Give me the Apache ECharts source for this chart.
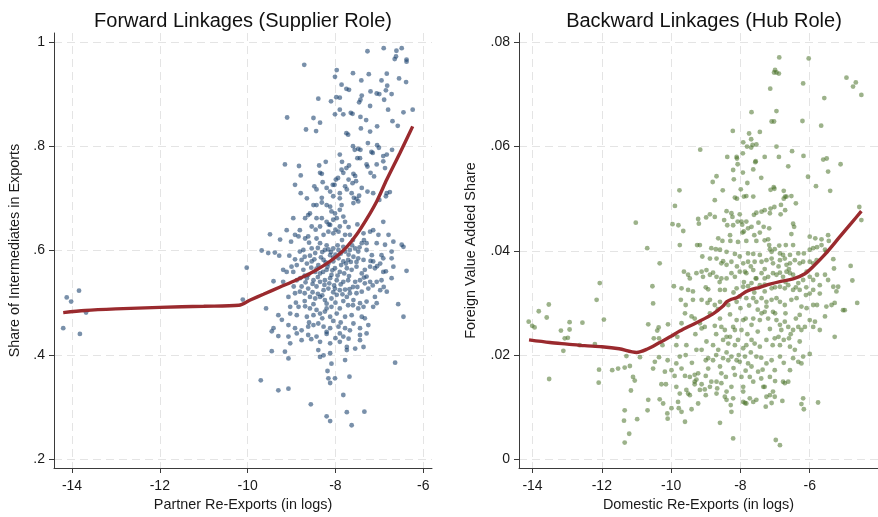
<!DOCTYPE html>
<html>
<head>
<meta charset="utf-8">
<script src="https://cdn.jsdelivr.net/npm/echarts@6/dist/echarts.min.js"></script>
<style>
html, body { margin: 0; padding: 0; background: #ffffff; }
#chart { width: 878px; height: 517px; }
</style>
</head>
<body>
<div id="chart"></div>
<script>
// Forward linkages: partner re-exports (log) vs. share of intermediates in exports
const forwardPoints = [
  [-7.27,0.982],[-6.90,0.988],[-6.49,0.988],[-6.61,0.983],[-6.62,0.972],[-6.65,0.967],[-6.38,0.966],[-6.38,0.962],
  [-8.71,0.956],[-7.97,0.946],[-8.01,0.933],[-7.24,0.938],[-6.83,0.939],[-6.95,0.926],[-7.41,0.926],[-7.86,0.918],
  [-7.75,0.910],[-7.69,0.908],[-6.82,0.916],[-6.85,0.907],[-6.39,0.923],[-7.20,0.905],[-7.06,0.901],[-7.00,0.900],
  [-6.72,0.900],[-7.40,0.897],[-7.43,0.889],[-6.89,0.889],[-7.98,0.894],[-7.90,0.893],[-8.39,0.891],[-8.10,0.886],
  [-7.46,0.884],[-7.21,0.877],[-6.24,0.870],[-6.45,0.865],[-7.65,0.864],[-7.61,0.862],[-7.82,0.861],[-8.01,0.861],
  [-7.43,0.856],[-9.10,0.855],[-8.50,0.854],[-6.70,0.848],[-6.58,0.839],[-8.35,0.845],[-7.05,0.838],[-8.67,0.832],
  [-8.44,0.829],[-7.42,0.834],[-7.21,0.828],[-7.75,0.825],[-7.71,0.822],[-7.26,0.806],[-7.48,0.795],[-7.43,0.793],
  [-7.56,0.793],[-7.05,0.802],[-7.01,0.797],[-6.71,0.793],[-6.83,0.784],[-6.91,0.781],[-7.18,0.789],[-7.15,0.787],
  [-7.90,0.784],[-7.50,0.777],[-7.44,0.777],[-6.91,0.771],[-7.29,0.765],[-7.27,0.761],[-7.06,0.765],[-9.15,0.765],
  [-8.83,0.762],[-8.22,0.770],[-8.37,0.763],[-7.69,0.763],[-7.75,0.758],[-6.87,0.758],[-8.79,0.744],[-7.20,0.749],
  [-7.12,0.742],[-7.86,0.755],[-7.82,0.749],[-7.94,0.739],[-7.99,0.736],[-7.59,0.747],[-7.55,0.743],[-8.35,0.749],
  [-8.31,0.747],[-7.70,0.736],[-7.53,0.733],[-7.61,0.729],[-8.29,0.731],[-8.06,0.726],[-8.02,0.726],[-8.92,0.726],
  [-8.48,0.723],[-8.43,0.717],[-7.78,0.723],[-7.74,0.717],[-7.63,0.710],[-7.27,0.713],[-7.14,0.710],[-6.83,0.710],
  [-6.76,0.712],[-8.79,0.710],[-8.12,0.713],[-8.05,0.704],[-7.90,0.710],[-7.58,0.701],[-7.52,0.699],[-7.46,0.705],
  [-6.85,0.704],[-7.00,0.697],[-8.31,0.701],
  [-8.50,0.687],[-8.43,0.687],[-8.31,0.692],[-8.20,0.687],[-8.12,0.684],[-7.86,0.687],[-7.59,0.691],[-7.48,0.694],
  [-8.09,0.675],[-8.01,0.671],[-7.90,0.678],[-8.58,0.671],[-8.62,0.668],[-8.69,0.662],[-8.43,0.662],[-8.31,0.662],
  [-8.20,0.655],[-8.05,0.659],[-7.97,0.662],[-7.82,0.665],[-7.78,0.655],[-8.12,0.649],[-8.35,0.646],[-8.54,0.646],
  [-7.90,0.646],[-8.96,0.662],[-8.81,0.639],[-9.11,0.639],[-9.49,0.631],[-9.26,0.621],[-8.92,0.630],[-8.84,0.627],
  [-8.69,0.623],[-8.62,0.627],[-8.43,0.623],[-8.27,0.630],[-8.16,0.636],[-8.05,0.633],[-7.93,0.636],[-7.78,0.630],
  [-7.67,0.630],[-7.36,0.633],[-7.21,0.636],[-7.14,0.639],[-7.02,0.630],[-6.91,0.655],[-6.79,0.630],[-7.29,0.614],
  [-7.06,0.614],[-6.87,0.611],[-6.68,0.617],[-6.45,0.607],[-6.49,0.611],
  [-9.68,0.600],[-9.53,0.595],[-9.38,0.596],[-9.28,0.590],[-9.01,0.617],[-8.81,0.598],[-8.73,0.601],[-8.54,0.604],
  [-8.46,0.595],[-8.35,0.614],[-8.24,0.601],[-8.16,0.602],[-8.12,0.591],[-8.05,0.604],[-7.93,0.601],[-7.82,0.607],
  [-7.78,0.598],[-7.67,0.601],[-7.55,0.604],[-7.48,0.598],[-7.40,0.614],[-7.29,0.601],[-7.17,0.591],[-6.95,0.591],
  [-6.72,0.598],[-6.72,0.585],[-6.91,0.585],[-6.98,0.575],[-7.14,0.579],[-7.21,0.569],[-7.33,0.563],[-7.36,0.582],
  [-7.48,0.585],[-7.59,0.588],[-7.71,0.582],[-7.82,0.579],[-7.93,0.585],[-8.05,0.579],[-8.16,0.575],[-8.27,0.582],
  [-8.39,0.572],[-8.54,0.579],[-8.65,0.575],[-8.77,0.582],[-8.88,0.572],[-9.00,0.569],[-9.11,0.559],[-9.19,0.563],
  [-8.96,0.559],[-8.73,0.563],[-8.62,0.553],[-8.46,0.559],[-8.35,0.556],[-8.20,0.563],[-8.09,0.553],[-8.01,0.566],
  [-7.90,0.559],[-7.74,0.566],[-7.63,0.563],[-7.52,0.569],[-7.40,0.556],[-7.29,0.550],[-7.10,0.566],[-6.91,0.559],
  [-6.68,0.569],[-6.38,0.561],[-10.02,0.567],[-9.41,0.541],[-9.19,0.540],[-8.88,0.543],[-8.65,0.547],[-8.50,0.543],
  [-8.35,0.540],[-8.24,0.543],[-8.12,0.547],[-7.97,0.543],[-7.82,0.540],[-7.71,0.543],[-7.55,0.540],[-7.44,0.543],
  [-7.33,0.537],[-7.21,0.540],[-7.06,0.540],[-6.95,0.543],[-6.72,0.547],
  [-8.77,0.531],[-8.62,0.527],[-8.43,0.531],[-8.27,0.524],[-8.16,0.527],[-8.01,0.527],[-7.90,0.524],[-7.78,0.525],
  [-7.67,0.518],[-7.52,0.518],[-7.40,0.521],[-7.25,0.527],[-7.10,0.511],[-6.98,0.524],[-6.83,0.521],[-9.07,0.511],
  [-8.92,0.518],[-8.81,0.521],[-8.58,0.511],[-8.46,0.508],[-8.35,0.511],[-8.24,0.505],[-8.09,0.508],[-7.97,0.515],
  [-7.74,0.511],[-7.59,0.505],[-7.44,0.499],[-7.29,0.502],[-7.06,0.499],[-6.57,0.497],[-9.58,0.489],[-9.03,0.492],
  [-8.84,0.492],[-8.69,0.493],[-8.58,0.489],[-8.43,0.486],[-8.20,0.489],[-8.09,0.492],[-7.90,0.489],[-7.71,0.495],
  [-7.48,0.489],[-7.36,0.492],[-7.14,0.492],[-6.45,0.473],[-9.30,0.476],[-9.22,0.467],[-9.03,0.479],[-8.88,0.476],
  [-8.65,0.473],[-8.50,0.476],[-8.35,0.479],[-8.24,0.483],[-8.12,0.473],[-7.97,0.479],[-7.78,0.473],[-7.63,0.476],
  [-7.40,0.473],[-7.33,0.470],[-9.41,0.451],[-9.07,0.457],[-8.92,0.451],[-8.77,0.447],[-8.62,0.454],[-8.50,0.457],
  [-8.39,0.460],[-8.27,0.454],[-8.12,0.451],[-7.93,0.454],[-7.78,0.451],[-7.59,0.460],[-7.44,0.451],[-7.25,0.457],
  [-9.45,0.445],[-9.30,0.436],[-9.07,0.435],[-9.03,0.422],[-8.88,0.441],[-8.62,0.438],[-8.43,0.435],[-8.20,0.444],
  [-7.90,0.441],[-7.82,0.435],[-7.67,0.447],[-7.44,0.438],[-7.29,0.441],[-9.45,0.407],[-9.15,0.406],[-9.07,0.393],
  [-8.77,0.428],[-8.35,0.425],[-8.12,0.422],[-7.90,0.425],[-7.74,0.415],[-7.55,0.412],[-7.36,0.415],[-7.44,0.428],
  [-8.39,0.409],[-8.35,0.396],[-8.27,0.399],[-8.12,0.403],[-8.09,0.383],[-7.78,0.390],[-7.74,0.409],[-6.64,0.385],
  [-9.70,0.351],[-9.30,0.332],[-9.07,0.335],[-8.18,0.369],[-8.16,0.355],[-8.12,0.346],[-8.01,0.355],[-7.68,0.358],
  [-8.56,0.305],[-7.82,0.323],[-8.20,0.282],[-8.12,0.273],[-7.74,0.290],[-7.34,0.291],[-7.63,0.265],
  [-14.20,0.451],[-14.12,0.510],[-14.02,0.502],[-13.84,0.523],[-13.82,0.440],[-13.68,0.481],[-10.11,0.506],
  [-8.40,0.605],[-8.30,0.597],[-8.20,0.610],[-8.10,0.597],[-8.00,0.592],[-7.95,0.610],[-7.88,0.594],[-7.70,0.592],
  [-7.62,0.610],[-7.45,0.606],[-8.58,0.590],[-8.70,0.588],[-8.48,0.583],[-8.33,0.587],[-8.22,0.577],[-8.05,0.586],
  [-7.87,0.572],[-7.76,0.575],[-7.65,0.578],[-7.52,0.578],[-8.92,0.583],[-9.05,0.590],[-8.55,0.567],[-8.43,0.565],
  [-8.28,0.559],[-8.18,0.569],[-8.07,0.562],[-7.95,0.552],[-7.80,0.556],[-7.69,0.551],[-8.70,0.552],[-8.80,0.547],
  [-8.40,0.549],[-8.25,0.534],[-8.14,0.537],[-8.03,0.533],[-7.88,0.535],[-7.60,0.530],[-8.52,0.536],[-8.68,0.539],
  [-8.95,0.531],[-8.70,0.518],[-8.52,0.520],[-8.40,0.517],[-8.30,0.514],[-8.05,0.520],[-7.84,0.516],[-7.68,0.526],
  [-8.20,0.498],[-8.00,0.500],[-7.82,0.503],[-8.50,0.497],[-8.70,0.503],[-8.90,0.500],[-7.60,0.495],[-8.30,0.470],
  [-8.05,0.465],[-7.88,0.462],[-8.60,0.462],[-8.20,0.440],[-8.00,0.432],[-7.70,0.431],[-8.55,0.430],[-7.20,0.580],
  [-7.05,0.570],[-6.85,0.560],[-7.35,0.548],[-7.15,0.533],[-6.90,0.530],[-7.50,0.530],[-8.15,0.650],[-8.00,0.640],
  [-7.70,0.645],[-7.50,0.650],[-8.45,0.640],[-8.60,0.615],[-7.85,0.620],[-7.60,0.620],[-7.35,0.620],[-7.90,0.700],
  [-8.20,0.720],[-7.40,0.720],[-8.65,0.700],[-7.85,0.770],[-7.60,0.800],[-7.30,0.850],[-7.90,0.870],[-6.80,0.870],
  [-6.55,0.930],[-7.60,0.940]
];
const forwardFit = [
  [-14.20,0.481],[-13.70,0.485],[-13.00,0.488],[-12.00,0.491],[-11.00,0.493],[-10.20,0.495],[-9.94,0.505],
  [-9.64,0.516],[-9.26,0.530],[-8.88,0.544],[-8.58,0.556],[-8.27,0.571],[-7.97,0.589],[-7.74,0.607],
  [-7.52,0.630],[-7.29,0.660],[-7.06,0.694],[-6.83,0.736],[-6.53,0.787],[-6.24,0.838]
];

// Backward linkages: domestic re-exports (log) vs. foreign value added share
const backwardPoints = [
  [-6.88,0.0771],[-6.03,0.0769],[-7.00,0.0747],[-6.96,0.0742],[-6.89,0.0740],[-7.03,0.0742],[-6.19,0.0721],[-4.94,0.0732],
  [-4.67,0.0723],[-4.75,0.0715],[-4.51,0.0699],[-5.58,0.0693],[-7.14,0.0711],[-6.96,0.0668],[-7.68,0.0666],[-7.10,0.0648],
  [-7.03,0.0648],[-6.21,0.0649],[-5.67,0.0640],[-8.22,0.0630],[-7.44,0.0628],[-7.75,0.0625],[-7.69,0.0614],[-7.65,0.0603],
  [-7.81,0.0600],[-7.54,0.0604],[-7.92,0.0608],[-7.69,0.0598],[-6.96,0.0600],[-9.16,0.0594],[-8.38,0.0580],[-8.11,0.0580],
  [-8.08,0.0566],[-8.10,0.0577],[-7.93,0.0587],[-7.30,0.0580],[-6.89,0.0580],[-6.51,0.0591],[-6.18,0.0582],[-5.61,0.0575],
  [-5.51,0.0577],[-5.11,0.0566],[-7.57,0.0570],[-7.56,0.0572],[-6.62,0.0562],[-8.21,0.0555],[-7.93,0.0550],[-7.63,0.0556],
  [-6.05,0.0542],[-5.47,0.0552],[-8.69,0.0543],[-8.80,0.0532],[-8.19,0.0537],[-7.13,0.0517],[-7.04,0.0522],[-7.02,0.0519],
  [-5.82,0.0524],[-5.41,0.0515],[-9.76,0.0516],[-8.51,0.0516],[-7.99,0.0518],[-7.90,0.0504],[-6.75,0.0515],[-6.71,0.0504],
  [-6.67,0.0504],[-7.63,0.0504],[-7.83,0.0505],[-8.16,0.0502],[-8.74,0.0497],[-6.40,0.0491],[-9.89,0.0486],[-8.40,0.0476],
  [-8.26,0.0472],[-8.23,0.0465],[-8.02,0.0470],[-7.61,0.0469],[-7.54,0.0473],[-7.39,0.0475],[-7.30,0.0478],[-7.13,0.0481],
  [-7.02,0.0484],[-7.15,0.0472],[-6.84,0.0470],[-6.71,0.0478],[-6.83,0.0488],[-6.75,0.0500],[-6.53,0.0505],[-4.57,0.0484],
  [-4.51,0.0459],[-8.99,0.0464],[-8.88,0.0470],[-9.22,0.0461],[-9.20,0.0452],[-9.96,0.0451],[-9.79,0.0449],[-11.02,0.0454],
  [-8.47,0.0459],[-8.38,0.0449],[-8.21,0.0449],[-8.08,0.0456],[-7.97,0.0456],[-7.83,0.0456],[-7.48,0.0454],[-7.33,0.0446],
  [-7.17,0.0443],[-6.48,0.0452],[-6.45,0.0446],[-8.74,0.0465],[-7.78,0.0443],[-7.68,0.0446],
  [-9.65,0.0438],[-8.64,0.0424],[-8.52,0.0419],[-8.29,0.0419],[-8.07,0.0417],[-7.83,0.0419],[-7.54,0.0419],[-7.20,0.0422],
  [-7.17,0.0411],[-6.88,0.0410],[-6.69,0.0411],[-6.48,0.0411],[-6.00,0.0427],[-5.84,0.0424],[-5.66,0.0422],[-5.47,0.0430],
  [-5.45,0.0419],[-9.17,0.0411],[-9.25,0.0411],[-9.75,0.0411],[-10.69,0.0405],[-7.94,0.0435],[-7.90,0.0437],[-7.44,0.0435],
  [-6.53,0.0432],[-8.84,0.0405],[-8.71,0.0403],[-8.59,0.0402],[-8.40,0.0398],[-8.16,0.0394],[-7.78,0.0395],[-7.63,0.0394],
  [-7.44,0.0392],[-7.15,0.0403],[-7.10,0.0398],[-7.01,0.0403],[-6.86,0.0395],[-6.77,0.0392],[-6.57,0.0392],[-6.33,0.0395],
  [-6.17,0.0395],[-6.00,0.0402],[-5.90,0.0405],[-5.79,0.0407],[-5.66,0.0411],[-5.56,0.0402],[-5.52,0.0398],[-10.33,0.0376],
  [-9.10,0.0389],[-8.88,0.0385],[-8.69,0.0385],[-8.55,0.0376],[-8.40,0.0373],[-8.26,0.0379],[-8.02,0.0389],[-7.92,0.0376],
  [-7.78,0.0379],[-7.59,0.0379],[-7.39,0.0379],[-7.25,0.0382],[-7.10,0.0385],[-7.06,0.0376],[-6.86,0.0382],[-6.72,0.0385],
  [-6.67,0.0373],[-6.57,0.0376],[-6.43,0.0382],[-6.29,0.0376],[-6.19,0.0379],[-6.00,0.0379],[-5.90,0.0376],[-5.80,0.0382],
  [-5.32,0.0384],[-5.30,0.0366],[-4.82,0.0371],[-4.77,0.0343],
  [-12.06,0.0338],[-10.54,0.0332],[-9.63,0.0360],[-9.51,0.0354],[-9.46,0.0347],[-9.27,0.0357],[-9.12,0.0360],[-9.08,0.0350],
  [-8.98,0.0363],[-8.88,0.0354],[-8.79,0.0358],[-8.69,0.0350],[-8.55,0.0347],[-8.40,0.0347],[-8.26,0.0357],[-8.16,0.0350],
  [-8.02,0.0360],[-7.87,0.0360],[-7.83,0.0357],[-7.63,0.0363],[-7.54,0.0347],[-7.39,0.0357],[-7.30,0.0347],[-7.20,0.0350],
  [-7.06,0.0357],[-6.96,0.0354],[-6.86,0.0358],[-6.77,0.0350],[-6.67,0.0360],[-6.57,0.0357],[-6.48,0.0354],[-6.33,0.0338],
  [-6.19,0.0344],[-6.09,0.0360],[-6.00,0.0350],[-5.90,0.0344],[-5.79,0.0354],[-5.71,0.0334],[-5.56,0.0354],[-5.47,0.0344],
  [-5.32,0.0331],[-5.23,0.0322],[-5.18,0.0331],[-9.92,0.0332],[-9.70,0.0328],[-9.51,0.0325],[-9.37,0.0322],[-8.93,0.0326],
  [-8.59,0.0325],[-8.45,0.0325],[-8.11,0.0328],[-7.92,0.0331],[-7.78,0.0332],[-7.68,0.0338],[-7.56,0.0347],[-7.44,0.0334],
  [-7.30,0.0322],[-7.10,0.0328],[-6.86,0.0331],[-6.72,0.0328],[-6.62,0.0334],[-6.48,0.0325],[-6.29,0.0325],[-6.11,0.0315],
  [-6.00,0.0318],[-5.90,0.0325],[-5.71,0.0318],[-10.52,0.0299],[-9.72,0.0306],[-9.58,0.0296],[-9.37,0.0306],[-9.12,0.0306],
  [-8.88,0.0306],[-8.74,0.0296],[-8.59,0.0302],[-8.35,0.0296],[-8.11,0.0302],[-8.02,0.0312],[-7.83,0.0309],[-7.63,0.0309],
  [-7.54,0.0302],[-7.39,0.0309],[-7.25,0.0302],[-7.10,0.0306],[-6.96,0.0309],[-6.86,0.0302],[-6.72,0.0296],[-6.53,0.0306],
  [-6.38,0.0309],[-6.24,0.0293],[-6.09,0.0290],[-5.90,0.0296],[-5.79,0.0296],[-5.52,0.0293],[-5.37,0.0296],[-5.28,0.0300],
  [-5.04,0.0286],[-4.99,0.0286],[-4.63,0.0300],
  [-12.56,0.0262],[-12.15,0.0306],[-11.94,0.0268],[-10.66,0.0259],[-10.36,0.0253],[-10.40,0.0247],[-10.50,0.0232],[-10.35,0.0232],
  [-10.25,0.0219],[-10.09,0.0259],[-9.82,0.0235],[-9.70,0.0261],[-9.41,0.0274],[-9.32,0.0270],[-9.17,0.0261],[-9.12,0.0251],
  [-9.03,0.0254],[-8.88,0.0280],[-8.74,0.0256],[-8.59,0.0270],[-8.55,0.0254],[-8.45,0.0248],[-8.40,0.0235],[-8.21,0.0254],
  [-8.16,0.0248],[-8.11,0.0267],[-7.97,0.0248],[-7.92,0.0267],[-7.85,0.0270],[-7.68,0.0258],[-7.63,0.0270],[-7.44,0.0267],
  [-7.39,0.0280],[-7.30,0.0283],[-7.20,0.0270],[-7.06,0.0283],[-6.96,0.0267],[-6.86,0.0258],[-6.82,0.0248],[-6.72,0.0264],
  [-6.62,0.0254],[-6.60,0.0232],[-6.48,0.0248],[-6.33,0.0254],[-6.24,0.0248],[-6.14,0.0254],[-6.00,0.0267],[-5.90,0.0254],
  [-5.85,0.0264],[-5.71,0.0248],[-5.56,0.0274],[-5.28,0.0235],[-6.29,0.0277],[-9.85,0.0219],[-9.56,0.0219],[-9.27,0.0210],
  [-9.12,0.0210],[-8.98,0.0226],[-8.79,0.0219],[-8.64,0.0210],[-8.50,0.0229],[-8.35,0.0222],[-8.16,0.0219],[-8.07,0.0229],
  [-7.92,0.0213],[-7.83,0.0219],[-7.68,0.0229],[-7.59,0.0222],[-7.44,0.0216],[-7.25,0.0229],[-7.07,0.0219],[-7.01,0.0232],
  [-6.86,0.0219],[-6.75,0.0229],[-6.57,0.0216],[-6.43,0.0210],[-6.00,0.0202],[-6.29,0.0226],
  [-12.64,0.0219],[-12.20,0.0221],[-11.29,0.0198],[-10.90,0.0196],[-11.19,0.0179],[-11.34,0.0176],[-11.53,0.0174],[-11.70,0.0171],
  [-12.08,0.0172],[-12.09,0.0147],[-11.10,0.0158],[-11.05,0.0151],[-11.16,0.0132],[-10.52,0.0174],[-10.47,0.0187],[-10.35,0.0196],
  [-10.18,0.0168],[-9.99,0.0171],[-9.85,0.0184],[-9.75,0.0197],[-9.70,0.0174],[-9.58,0.0200],[-9.46,0.0158],[-9.32,0.0162],
  [-9.22,0.0165],[-9.27,0.0153],[-9.32,0.0149],[-9.12,0.0144],[-9.17,0.0133],[-8.93,0.0194],[-8.93,0.0174],[-8.79,0.0190],
  [-8.69,0.0149],[-8.67,0.0136],[-8.59,0.0178],[-8.50,0.0194],[-8.42,0.0158],[-8.35,0.0190],[-8.26,0.0197],[-8.16,0.0162],
  [-8.11,0.0190],[-8.02,0.0187],[-7.97,0.0158],[-7.92,0.0139],[-7.87,0.0197],[-7.78,0.0184],[-7.73,0.0158],[-7.68,0.0178],
  [-7.63,0.0149],[-7.54,0.0197],[-7.49,0.0168],[-7.36,0.0172],[-7.30,0.0139],[-7.25,0.0184],[-7.15,0.0158],[-7.01,0.0171],
  [-6.86,0.0197],[-6.77,0.0149],[-6.72,0.0146],[-6.62,0.0149],[-6.57,0.0171],[-6.48,0.0194],[-6.33,0.0187],[-6.24,0.0184],
  [-6.19,0.0197],[-10.28,0.0144],[-10.15,0.0144],[-9.85,0.0139],[-9.75,0.0126],[-9.56,0.0133],[-9.51,0.0126],[-9.46,0.0123],
  [-9.32,0.0144],[-9.03,0.0134],[-8.88,0.0139],[-8.84,0.0149],[-8.69,0.0126],[-8.55,0.0146],[-8.40,0.0130],[-8.26,0.0139],
  [-8.21,0.0117],[-7.92,0.0130],[-7.83,0.0107],[-7.73,0.0117],[-7.63,0.0110],[-7.54,0.0114],[-7.34,0.0139],[-7.25,0.0120],
  [-7.15,0.0123],[-7.06,0.0130],[-7.01,0.0120],[-6.79,0.0112],[-6.19,0.0117],
  [-11.34,0.0094],[-11.36,0.0074],[-11.21,0.0049],[-11.34,0.0032],[-10.98,0.0077],[-10.66,0.0114],[-10.68,0.0094],[-10.33,0.0115],
  [-10.23,0.0107],[-10.11,0.0088],[-10.10,0.0078],[-9.99,0.0098],[-9.80,0.0110],[-9.78,0.0098],[-9.70,0.0091],[-9.60,0.0072],
  [-9.41,0.0096],[-9.22,0.0107],[-9.00,0.0123],[-8.59,0.0070],[-8.45,0.0120],[-8.40,0.0114],[-8.28,0.0104],[-8.26,0.0091],
  [-7.92,0.0110],[-7.87,0.0108],[-7.27,0.0101],[-7.10,0.0108],[-6.24,0.0106],[-6.17,0.0096],[-5.76,0.0109],[-8.21,0.0040],
  [-6.98,0.0037],[-6.86,0.0027],
  [-14.11,0.0264],[-14.01,0.0256],[-13.94,0.0253],[-13.82,0.0284],[-13.59,0.0272],[-13.53,0.0297],[-13.52,0.0154],[-13.18,0.0247],
  [-13.11,0.0208],[-13.07,0.0232],[-12.98,0.0233],[-12.93,0.0249],[-12.93,0.0263],
  [-8.95,0.0300],[-8.65,0.0288],[-8.30,0.0278],[-8.00,0.0290],[-7.75,0.0295],[-7.50,0.0287],[-7.25,0.0293],[-7.00,0.0280],
  [-6.70,0.0280],[-6.40,0.0270],[-8.70,0.0240],[-8.30,0.0235],[-7.80,0.0240],[-7.50,0.0245],[-7.15,0.0250],[-6.90,0.0235],
  [-6.55,0.0240],[-9.00,0.0190],[-8.70,0.0200],[-8.40,0.0205],[-8.05,0.0200],[-7.70,0.0205],[-7.40,0.0195],[-7.10,0.0190],
  [-6.75,0.0185],[-9.40,0.0185],[-9.60,0.0160],[-9.00,0.0160],[-8.55,0.0165],[-8.20,0.0175],[-7.85,0.0170],[-7.40,0.0155],
  [-7.00,0.0150],[-9.90,0.0160],[-10.10,0.0190],[-9.30,0.0240],[-9.60,0.0280],[-9.00,0.0330],[-8.60,0.0340],[-8.20,0.0320],
  [-7.90,0.0340],[-7.60,0.0320],[-7.30,0.0335],[-7.00,0.0330],[-6.70,0.0340],[-6.40,0.0330],[-6.10,0.0330],[-8.50,0.0380],
  [-8.10,0.0370],[-7.70,0.0370],[-7.30,0.0365],[-6.90,0.0370],[-6.60,0.0365],[-8.30,0.0430],[-7.95,0.0450],[-7.60,0.0430],
  [-7.30,0.0420],[-8.10,0.0500],[-7.80,0.0530],[-7.40,0.0540]
];
const backwardFit = [
  [-14.10,0.0229],[-13.50,0.0224],[-13.00,0.0221],[-12.50,0.0218],[-12.00,0.0216],[-11.50,0.0212],[-11.00,0.0205],
  [-10.70,0.0211],[-10.33,0.0224],[-10.00,0.0236],[-9.75,0.0246],[-9.27,0.0262],[-8.79,0.0279],[-8.50,0.0294],
  [-8.40,0.0302],[-8.26,0.0307],[-8.11,0.0310],[-7.97,0.0316],[-7.83,0.0322],[-7.68,0.0326],[-7.44,0.0330],
  [-7.15,0.0336],[-6.86,0.0341],[-6.48,0.0346],[-6.14,0.0356],[-5.90,0.0370],[-5.52,0.0396],[-5.13,0.0427],
  [-4.80,0.0453],[-4.51,0.0476]
];

// Tick positions
const forwardXTicks = [-14, -12, -10, -8, -6];
const forwardYTicks = [0.2, 0.4, 0.6, 0.8, 1];
const backwardXTicks = [-14, -12, -10, -8, -6];
const backwardYTicks = [0, 0.02, 0.04, 0.06, 0.08];

const FONT = '"Liberation Sans", Arial, Helvetica, sans-serif';
const INK = '#1a1a1a';
const AXIS = '#3a3a3a';
const GRID = '#e4e4e4';

// Stata-style numbers: drop the leading zero (0.8 -> .8)
function shortNum(v) {
  const s = String(+Number(v).toFixed(4));
  return s.replace(/^0\./, '.').replace(/^-0\./, '-.');
}

function makeAxis(kind, gridIndex, min, max, ticks, name, nameGap) {
  return {
    type: 'value',
    gridIndex: gridIndex,
    min: min,
    max: max,
    name: name,
    nameLocation: 'middle',
    nameGap: nameGap,
    nameTextStyle: { fontFamily: FONT, fontSize: 14.4, color: INK },
    axisLine: { show: true, onZero: false, lineStyle: { color: AXIS, width: 1 } },
    axisTick: { show: true, length: 5, customValues: ticks, lineStyle: { color: AXIS, width: 1 } },
    axisLabel: {
      show: true, customValues: ticks, margin: kind === 'x' ? 11 : 9,
      fontFamily: FONT, fontSize: 14, color: INK, formatter: shortNum
    },
    splitLine: { show: true, lineStyle: { color: GRID, width: 1, type: [8, 5] } }
  };
}

const chart = echarts.init(document.getElementById('chart'), null, { renderer: 'canvas' });

chart.setOption({
  animation: false,
  backgroundColor: '#ffffff',
  graphic: [
    { type: 'text', x: 243, y: 21, style: { text: 'Forward Linkages (Supplier Role)', fill: '#111', font: '20px ' + FONT, textAlign: 'center', textVerticalAlign: 'middle' } },
    { type: 'text', x: 704, y: 21, style: { text: 'Backward Linkages (Hub Role)', fill: '#111', font: '20px ' + FONT, textAlign: 'center', textVerticalAlign: 'middle' } }
  ],
  grid: [
    { left: 54, top: 33, width: 378, height: 435, containLabel: false },
    { left: 519, top: 33, width: 359, height: 435, containLabel: false }
  ],
  xAxis: [
    makeAxis('x', 0, -14.41, -5.80, forwardXTicks, 'Partner Re-Exports (in logs)', 29),
    makeAxis('x', 1, -14.39, -4.03, backwardXTicks, 'Domestic Re-Exports (in logs)', 29)
  ],
  yAxis: [
    makeAxis('y', 0, 0.183, 1.017, forwardYTicks, 'Share of Intermediates in Exports', 32),
    makeAxis('y', 1, -0.00167, 0.08178, backwardYTicks, 'Foreign Value Added Share', 41)
  ],
  series: [
    {
      type: 'scatter', xAxisIndex: 0, yAxisIndex: 0, data: forwardPoints,
      symbol: 'circle', symbolSize: 4.8,
      itemStyle: { color: 'rgba(22,62,108,0.72)' }, z: 2
    },
    {
      type: 'line', xAxisIndex: 0, yAxisIndex: 0, data: forwardFit,
      symbol: 'none', smooth: 0.3,
      lineStyle: { color: '#9a2a2e', width: 3.4 }, z: 3
    },
    {
      type: 'scatter', xAxisIndex: 1, yAxisIndex: 1, data: backwardPoints,
      symbol: 'circle', symbolSize: 4.8,
      itemStyle: { color: 'rgba(72,112,38,0.68)' }, z: 2
    },
    {
      type: 'line', xAxisIndex: 1, yAxisIndex: 1, data: backwardFit,
      symbol: 'none', smooth: 0.3,
      lineStyle: { color: '#9a2a2e', width: 3.4 }, z: 3
    }
  ]
});
</script>
</body>
</html>
